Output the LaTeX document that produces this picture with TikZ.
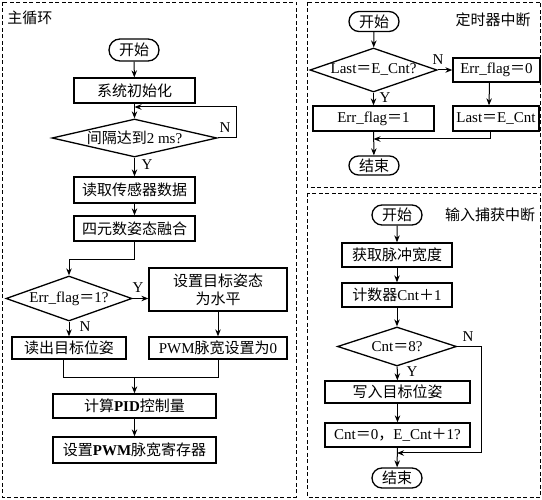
\documentclass[tikz,border=0pt]{standalone}
\usepackage{fontspec}
\setmainfont{Liberation Serif}
\newfontfamily\cjk{Noto Sans CJK SC}
\usetikzlibrary{arrows.meta,shapes.geometric,shapes.misc}
\newcommand\zh[1]{{\cjk #1}}
\newcommand\zeq{{\cjk ＝}}
\newcommand\zplus{{\cjk ＋}}
\begin{document}
\begin{tikzpicture}[x=1pt,y=-1pt,
  font=\fontsize{15}{18}\selectfont,
  box/.style n args={2}{draw,rectangle,line width=1.3pt,inner sep=0pt,minimum width=#1pt,minimum height=#2pt,align=center},
  term/.style n args={2}{draw,rounded rectangle,line width=1.3pt,inner sep=0pt,minimum width=#1pt,minimum height=#2pt},
  dia/.style n args={2}{draw,diamond,line width=1.3pt,inner sep=0pt,minimum width=#1pt,minimum height=#2pt},
  frame/.style={draw,line width=0.9pt,dash pattern=on 4pt off 2.5pt},
  ln/.style={line width=1pt},
  arr/.style={line width=1pt,-{Stealth[length=7pt,width=5.5pt]}},
  yn/.style={inner sep=0pt}]
\useasboundingbox (0,0) rectangle (542,500);
% frames
\draw[frame] (2,2) rectangle (296,497);
\draw[frame] (307,2) rectangle (540.5,187);
\draw[frame] (307,193) rectangle (540.5,497);
\node[yn] (lmain) at (30,18) {\zh{主循环}};
\node[yn] (ltimer) at (493,20) {\zh{定时器中断}};
\node[yn] (lcap) at (490,215) {\zh{输入捕获中断}};
% main loop
\node[term={50}{22}] (m0) at (134,50) {\zh{开始}};
\node[box={121}{25}] (m1) at (134.5,90.5) {\zh{系统初始化}};
\node[dia={165}{38}] (m2) at (134.5,138) {\makebox[0pt]{\zh{间隔达到}2 ms?}};
\node[box={121}{26}] (m3) at (134.5,190) {\zh{读取传感器数据}};
\node[box={121}{25}] (m4) at (134.5,228.5) {\zh{四元数姿态融合}};
\node[dia={126}{45}] (m5) at (69,298.5) {\makebox[0pt]{Err\_flag\zeq 1?}};
\node[box={138}{43}] (m6) at (218,289.5) {\zh{设置目标姿态}\\\zh{为水平}};
\node[box={114}{22}] (m7) at (69,348) {\zh{读出目标位姿}};
\node[box={138}{22}] (m8) at (218,348) {PWM\zh{脉宽设置为}0};
\node[box={163}{24}] (m9) at (134.5,406) {\zh{计算}\textbf{PID}\zh{控制量}};
\node[box={163}{26}] (m10) at (134.5,450) {\zh{设置}\textbf{PWM}\zh{脉宽寄存器}};
\coordinate (j1) at (134.5,107);
\coordinate (j2) at (134.5,260);
\coordinate (j3) at (134.5,378);
\draw[arr] (m0) -- (m1);
\draw[arr] (m1) -- (m2);
\draw[arr] (m2.east) -- ++(19,0) |- (j1);
\draw[arr] (m2) -- (m3);
\draw[arr] (m3) -- (m4);
\draw[arr] (m4.south) -- (j2) -| (m5.north);
\draw[arr] (m5.east) -- (m5.east -| m6.west);
\draw[arr] (m6) -- (m8);
\draw[arr] (m5) -- (m7);
\draw[ln] ([xshift=-6pt]m7.south) -- ([xshift=-6pt]m7.south |- j3) -- (m8.south |- j3) -- (m8.south);
\draw[arr] (j3) -- (m9);
\draw[arr] (m9) -- (m10);
\node[yn] (n1) at (225,128) {N};
\node[yn] (y1) at (147,165) {Y};
\node[yn] (y2) at (138,288) {Y};
\node[yn] (n2) at (85,327) {N};
% timer interrupt
\node[term={50}{20}] (t0) at (374,21.5) {\zh{开始}};
\node[dia={127}{44}] (t1) at (373.5,70) {\makebox[0pt]{Last\zeq E\_Cnt?}};
\node[box={87}{24}] (t2) at (496.5,70) {Err\_flag\zeq 0};
\node[box={86}{25}] (t3) at (496,118.5) {Last\zeq E\_Cnt};
\node[box={121}{25}] (t4) at (373.5,118.5) {Err\_flag\zeq 1};
\node[term={50}{19}] (t5) at (374,165.5) {\zh{结束}};
\coordinate (j4) at (373.5,139);
\draw[arr] (t0) -- (t1);
\draw[arr] (t1) -- (t2);
\draw[arr] ([xshift=-7pt]t2.south) -- ([xshift=-7pt]t3.north);
\draw[arr] (t1) -- (t4);
\draw[arr] (t4) -- (t5);
\draw[arr] ([xshift=-6pt]t3.south) |- (j4);
\node[yn] (n3) at (438,60) {N};
\node[yn] (y3) at (385,98) {Y};
% input capture interrupt
\node[term={50}{20}] (b0) at (397,215) {\zh{开始}};
\node[box={110}{24}] (b1) at (397,255) {\zh{获取脉冲宽度}};
\node[box={110}{24}] (b2) at (397,295) {\zh{计数器}Cnt\zplus 1};
\node[dia={119}{39}] (b3) at (397,346.5) {\makebox[0pt]{Cnt\zeq 8?}};
\node[box={145}{22}] (b4) at (397.5,392) {\zh{写入目标位姿}};
\node[box={145}{24}] (b5) at (397.5,435) {Cnt\zeq 0\zh{，}E\_Cnt\zplus 1?};
\node[term={50}{20}] (b6) at (397,478) {\zh{结束}};
\coordinate (j5) at (397,453);
\draw[arr] (b0) -- (b1);
\draw[arr] (b1) -- (b2);
\draw[arr] (b2) -- (b3);
\draw[arr] (b3) -- (b4);
\draw[arr] (b4) -- (b5);
\draw[arr] (b5) -- (b6);
\draw[arr] (b3.east) -- ++(24,0) |- (j5);
\node[yn] (n4) at (468,337) {N};
\node[yn] (y4) at (412,372) {Y};
\end{tikzpicture}
\end{document}
